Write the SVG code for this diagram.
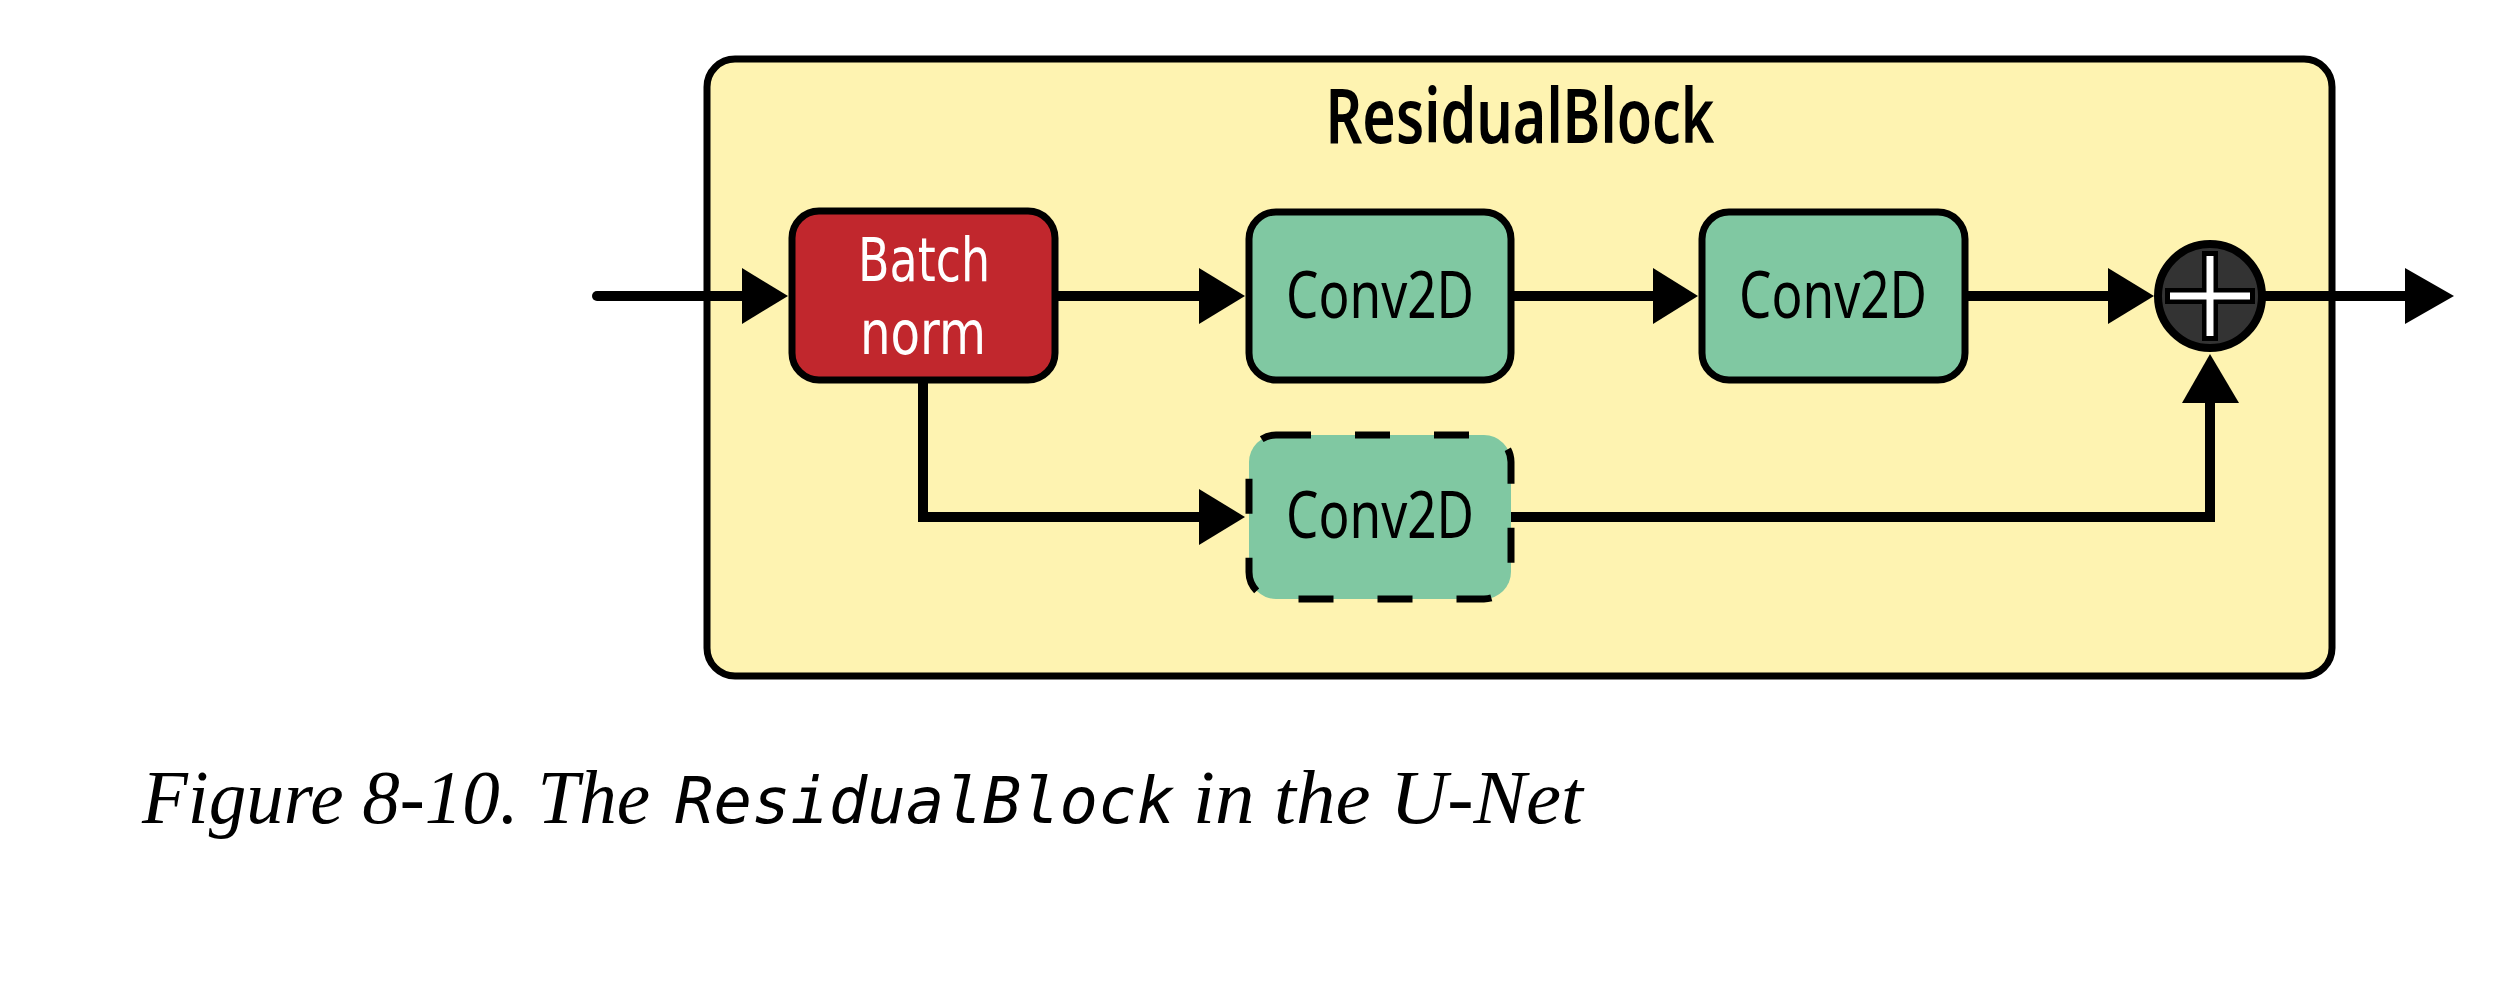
<svg xmlns="http://www.w3.org/2000/svg" width="2496" height="1000" viewBox="0 0 2496 1000">
<style>
.box{stroke:#000;stroke-width:7}
.conv{fill:#80C8A2}
.lbl{font-family:"Noto Sans","DejaVu Sans",sans-serif;font-size:66px;text-anchor:middle}
.bn{font-family:"DejaVu Sans",sans-serif;font-stretch:condensed;font-size:61px;text-anchor:middle;fill:#fff}
.ln{fill:none;stroke:#000;stroke-width:10;stroke-linejoin:miter}
.ah{fill:#000}
.cap{font-family:"Liberation Serif",serif;font-style:italic;font-size:77px;fill:#000}
.mono{font-family:"DejaVu Sans Mono","Liberation Mono",monospace;font-style:italic;font-size:64px;fill:#000}
</style>
<rect width="2496" height="1000" fill="#fff"/>
<g id="residual-block">
<rect x="707" y="59" width="1625" height="617" rx="28" fill="#FEF3B1" class="box"/>
<text x="1520" y="143" font-family="'Noto Sans','DejaVu Sans',sans-serif" font-weight="600" font-size="76" text-anchor="middle" textLength="389" lengthAdjust="spacingAndGlyphs">ResidualBlock</text>
</g>
<g id="connectors">
<path class="ln" d="M597 296 H750" stroke-linecap="round"/>
<polygon class="ah" points="742,268 788,296 742,324"/>
<path class="ln" d="M1055 296 H1205"/>
<polygon class="ah" points="1199,268 1245,296 1199,324"/>
<path class="ln" d="M1511 296 H1660"/>
<polygon class="ah" points="1653,268 1698,296 1653,324"/>
<path class="ln" d="M1965 296 H2115"/>
<polygon class="ah" points="2108,268 2154,296 2108,324"/>
<path class="ln" d="M2262 296 H2412"/>
<polygon class="ah" points="2405,268 2454,296 2405,324"/>
<path class="ln" d="M923 380 V517 H1205"/>
<polygon class="ah" points="1199,489 1245,517 1199,545"/>
<path class="ln" d="M1511 517 H2210 V396"/>
<polygon class="ah" points="2182,403 2210,354 2239,403"/>
</g>
<g id="batch-norm">
<rect x="792" y="211" width="263" height="169" rx="27" fill="#C1272D" class="box"/>
<text class="bn" x="924" y="281" textLength="132" lengthAdjust="spacingAndGlyphs">Batch</text>
<text class="bn" x="923" y="354" textLength="126" lengthAdjust="spacingAndGlyphs">norm</text>
</g>
<g id="conv2d-1">
<rect x="1249" y="212" width="262" height="168" rx="27" class="box conv"/>
<text class="lbl" x="1380" y="318" textLength="188" lengthAdjust="spacingAndGlyphs">Conv2D</text>
</g>
<g id="conv2d-2">
<rect x="1702" y="212" width="263" height="168" rx="27" class="box conv"/>
<text class="lbl" x="1833" y="318" textLength="188" lengthAdjust="spacingAndGlyphs">Conv2D</text>
</g>
<g id="conv2d-skip">
<rect x="1249" y="435" width="262" height="164" rx="27" class="conv" stroke="#000" stroke-width="7" stroke-dasharray="35 44"/>
<text class="lbl" x="1380" y="538" textLength="188" lengthAdjust="spacingAndGlyphs">Conv2D</text>
</g>
<g id="add">
<circle cx="2210" cy="296" r="52" fill="#333" stroke="#000" stroke-width="8"/>
<rect x="2165" y="288" width="90" height="16" fill="#000"/>
<rect x="2202" y="251" width="16" height="90" fill="#000"/>
<rect x="2170" y="292.5" width="80" height="7" fill="#fff"/>
<rect x="2206.5" y="256" width="7" height="80" fill="#fff"/>
</g>
<g id="caption">
<text class="cap" x="142" y="823" textLength="508" lengthAdjust="spacingAndGlyphs">Figure 8-10. The</text>
<text class="mono" x="675" y="823" textLength="500" lengthAdjust="spacingAndGlyphs">ResidualBlock</text>
<text class="cap" x="1193" y="823" textLength="390" lengthAdjust="spacingAndGlyphs">in the U-Net</text>
</g>
</svg>
